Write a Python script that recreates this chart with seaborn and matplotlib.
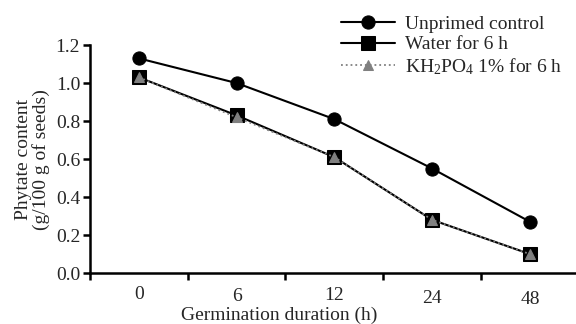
import pandas as pd
import numpy as np
import matplotlib
matplotlib.use("Agg")
import matplotlib.pyplot as plt
import seaborn as sns

# Data
durations = ["0", "6", "12", "24", "48"]
unprimed = [1.13, 1.00, 0.81, 0.55, 0.27]
water = [1.03, 0.83, 0.61, 0.28, 0.10]
kh2po4 = [1.03, 0.82, 0.61, 0.28, 0.10]
series_names = ["Unprimed control", "Water for 6 h", "KH$_2$PO$_4$ 1% for 6 h"]

sns.set_style("ticks")
plt.rcParams['font.family'] = ['Liberation Serif', 'DejaVu Serif']
plt.rcParams['mathtext.fontset'] = 'custom'
plt.rcParams['mathtext.rm'] = 'Liberation Serif'
plt.rcParams['mathtext.it'] = 'Liberation Serif:italic'

pos = np.arange(len(durations))
df = pd.DataFrame({
    'pos': np.tile(pos, 3),
    'value': unprimed + water + kh2po4,
    'series': np.repeat(series_names, len(durations)),
})

fig = plt.figure(figsize=(5.76, 3.24), dpi=100)
ax = fig.add_axes([0.156, 0.157, 0.844, 0.704])

styles = {
    series_names[0]: dict(color='black', marker='o', ms=9.5, ls='-', lw=1.5, mfc='black', mec='black'),
    series_names[1]: dict(color='black', marker='s', ms=9.5, ls='-', lw=1.5, mfc='black', mec='black'),
    series_names[2]: dict(color='#808080', marker='^', ms=7, ls=':', lw=1.3, mfc='#808080', mec='#808080'),
}
for name in series_names:
    sub = df[df['series'] == name]
    st = styles[name]
    sns.lineplot(data=sub, x='pos', y='value', ax=ax, label=name,
                 color=st['color'], marker=st['marker'], markersize=st['ms'],
                 linestyle=st['ls'], linewidth=st['lw'],
                 markerfacecolor=st['mfc'], markeredgecolor=st['mec'])

ax.set_xlim(-0.5, 4.47)
ax.set_ylim(0, 1.2)
ax.set_yticks(np.arange(0, 1.21, 0.2))
ax.set_yticklabels([f"{v:.1f}" for v in np.arange(0, 1.21, 0.2)])

# boundary ticks without labels, category labels without ticks
ax.set_xticks(np.arange(-0.5, 4.0, 1.0))
ax.set_xticklabels([])
ax.set_xticks(pos, minor=True)
ax.set_xticklabels(durations, minor=True)
ax.tick_params(axis='x', which='minor', length=0, pad=9, labelsize=14)
ax.tick_params(axis='both', which='major', direction='out', length=5, width=1.8,
               color='black', labelsize=14)
ax.tick_params(axis='y', pad=2)
offsets = [0, 1, 0.5, 2, 2.5]
for lab, off in zip(ax.get_xticklabels(minor=True), offsets):
    lab.set_y(-off / 100.0)

for sp in ['top', 'right']:
    ax.spines[sp].set_visible(False)
for sp in ['left', 'bottom']:
    ax.spines[sp].set_linewidth(1.8)
    ax.spines[sp].set_color('black')

ax.set_xlabel("Germination duration (h)", fontsize=14, labelpad=0)
ax.set_ylabel("Phytate content\n(g/100 g of seeds)", fontsize=14, labelpad=4, linespacing=1.0)
ax.xaxis.set_label_coords(0.39, -0.145)
ax.xaxis.label.set_va('top')

ax.legend(loc='upper right', bbox_to_anchor=(1.0, 0.995), bbox_transform=fig.transFigure,
          frameon=False, fontsize=14, handlelength=2.8, handletextpad=0.5,
          labelspacing=0.15, borderpad=0.2)

fig.savefig("out.png", dpi=100)
